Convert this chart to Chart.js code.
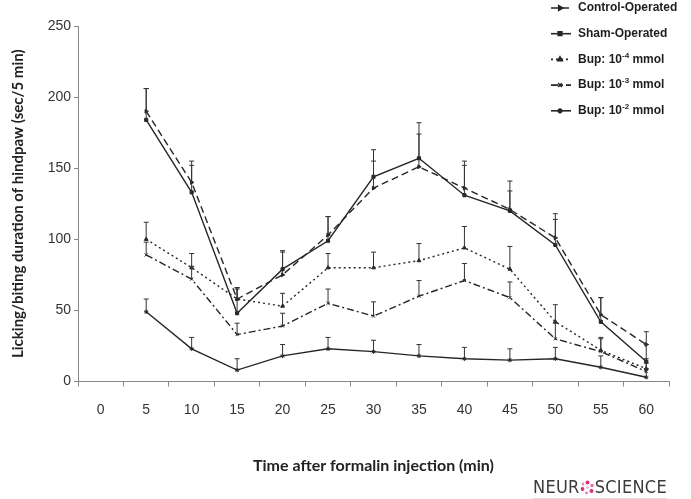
<!DOCTYPE html>
<html>
<head>
<meta charset="utf-8">
<script src="https://cdn.jsdelivr.net/npm/chart.js@4.4.1/dist/chart.umd.min.js"></script>
<style>
  html, body { margin: 0; padding: 0; background: #fff; }
  #wrap { position: relative; width: 691px; height: 499px; }
  #c { position: absolute; left: 0; top: 0; }
  #logo { position: absolute; left: 533px; top: 476px; font-family: "Liberation Sans Narrow", "DejaVu Sans Condensed", "Liberation Sans", sans-serif; font-size: 18px; color: #3a3a3a; letter-spacing: 0.3px; white-space: nowrap; border-bottom: 1px solid #ddd; padding-bottom: 1px; }
  #logo svg { vertical-align: -2px; }
</style>
</head>
<body>
<div id="wrap">
  <canvas id="c" width="691" height="499"></canvas>
  <div id="logo">NEUR<svg width="15" height="15" viewBox="0 0 15 15"><circle cx="7.5" cy="2.5" r="2" fill="#d6337f"/><circle cx="12" cy="5.5" r="1.7" fill="#e26aa5"/><circle cx="11.5" cy="11" r="2" fill="#d6337f"/><circle cx="6.5" cy="12.8" r="1.6" fill="#e98bbb"/><circle cx="2.5" cy="9" r="1.9" fill="#d6337f"/><circle cx="3" cy="4" r="1.4" fill="#e98bbb"/><circle cx="7.5" cy="7.5" r="1.3" fill="#f0a8cc"/></svg>SCIENCE</div>
</div>
<script>
// ---- data ----
const timeLabels = ['0','5','10','15','20','25','30','35','40','45','50','55','60'];
const seriesNames = ['Control-Operated','Sham-Operated','Bup: 10\u207B\u2074 mmol','Bup: 10\u207B\u00B3 mmol','Bup: 10\u207B\u00B2 mmol'];
const controlOperated = [null,190,140,58,75,103,136,151,136,121,101,47,26];
const controlErr      = [null,16,12,8,16,13,19,23,16,13,13,12,9];
const shamOperated    = [null,184,133,48,79,99,144,157,131,120,96,42,14];
const shamErr         = [null,22,22,17,13,17,19,25,24,21,22,17,12];
const bup4            = [null,100,80,58,53,80,80,85,94,79,42,22,9];
const bup4Err         = [null,12,10,8,9,10,11,12,15,16,12,9,7];
const bup3            = [null,89,72,33,39,55,46,60,71,59,30,21,7];
const bup3Err         = [null,9,9,8,9,10,10,11,12,11,11,9,6];
const bup2            = [null,49,23,8,18,23,21,18,16,15,16,10,3];
const bup2Err         = [null,9,8,8,8,8,8,8,8,8,8,8,6];
const yTicks = [0,50,100,150,200,250];

const INK = '#262626';
function ds(label, data, err, dash, pointStyle, rot) {
  return {
    label, data, err,
    borderColor: INK, backgroundColor: INK,
    borderWidth: 1.4, borderDash: dash,
    pointStyle, pointRotation: rot || 0, pointRadius: 2.2, pointBorderWidth: 1,
    pointBackgroundColor: INK, pointBorderColor: INK,
    tension: 0, spanGaps: false, fill: false
  };
}
const datasets = [
  ds(seriesNames[0], controlOperated, controlErr, [7,4], 'triangle', 90),
  ds(seriesNames[1], shamOperated, shamErr, [], 'rect'),
  ds(seriesNames[2], bup4, bup4Err, [2,3], 'triangle'),
  ds(seriesNames[3], bup3, bup3Err, [7,3,2,3], 'crossRot'),
  ds(seriesNames[4], bup2, bup2Err, [], 'star')
];

const errorBars = {
  id: 'errorBars',
  afterDatasetsDraw(chart) {
    const ctx = chart.ctx, xs = chart.scales.x, ys = chart.scales.y;
    ctx.save();
    ctx.strokeStyle = '#333'; ctx.lineWidth = 1; ctx.setLineDash([]);
    chart.data.datasets.forEach(d => {
      d.data.forEach((v, i) => {
        if (v == null || d.err[i] == null) return;
        const x = xs.getPixelForValue(i);
        const y0 = ys.getPixelForValue(v), y1 = ys.getPixelForValue(v + d.err[i]);
        ctx.beginPath();
        ctx.moveTo(x, y0); ctx.lineTo(x, y1);
        ctx.moveTo(x - 2.5, y1); ctx.lineTo(x + 2.5, y1);
        ctx.stroke();
      });
    });
    ctx.restore();
  }
};

const supMap = {'\u207B':'-','\u2070':'0','\u00B9':'1','\u00B2':'2','\u00B3':'3','\u2074':'4','\u2075':'5'};
const customLegend = {
  id: 'customLegend',
  afterDraw(chart) {
    const ctx = chart.ctx;
    ctx.save();
    chart.data.datasets.forEach((d, i) => {
      const y = 8 + 25.7 * i;
      ctx.strokeStyle = INK; ctx.lineWidth = 1.6;
      ctx.setLineDash(d.borderDash);
      ctx.beginPath(); ctx.moveTo(551, y); ctx.lineTo(571, y); ctx.stroke();
      ctx.setLineDash([]);
      ctx.fillStyle = INK;
      Chart.helpers.drawPoint(ctx, {pointStyle: d.pointStyle, rotation: d.pointRotation, radius: 2.6, borderWidth: 1.2}, 560, y);
      ctx.fillStyle = '#1e1e1e';
      ctx.textBaseline = 'middle';
      let x = 578;
      const runs = [];
      for (const ch of d.label) {
        const sup = supMap[ch] !== undefined;
        const t = sup ? supMap[ch] : ch;
        if (runs.length && runs[runs.length-1].sup === sup) runs[runs.length-1].t += t;
        else runs.push({t, sup});
      }
      runs.forEach(r => {
        ctx.font = r.sup ? 'bold 8px "Liberation Sans", Arial, sans-serif' : 'bold 12px "Liberation Sans", Arial, sans-serif';
        ctx.fillText(r.t, x, r.sup ? y - 4 : y);
        x += ctx.measureText(r.t).width;
      });
    });
    ctx.restore();
  }
};

new Chart(document.getElementById('c'), {
  type: 'line',
  data: { labels: timeLabels, datasets },
  plugins: [errorBars, customLegend],
  options: {
    responsive: false, animation: false, devicePixelRatio: 1,
    layout: { padding: { top: 26, right: 22, left: 0, bottom: 0 } },
    plugins: { legend: { display: false }, tooltip: { enabled: false } },
    scales: {
      x: {
        type: 'category', offset: true,
        grid: { offset: true, drawOnChartArea: false, drawTicks: true, tickLength: 5, color: '#888', lineWidth: 1 },
        border: { color: '#888', width: 1 },
        ticks: { color: '#333', font: { family: '"Liberation Sans", Arial, sans-serif', size: 14 }, padding: 15, maxRotation: 0, autoSkip: false },
        title: { display: true, text: 'Time after formalin injection (min)', color: '#222',
                 font: { family: 'Lato, "Open Sans", sans-serif', size: 16, weight: 'bold' }, padding: { top: 0, bottom: 24 } },
        afterFit(s) { s.height = 117.5; }
      },
      y: {
        min: 0, max: 250,
        afterBuildTicks(s) { s.ticks = yTicks.map(v => ({ value: v })); },
        grid: { drawOnChartArea: false, drawTicks: true, tickLength: 4, color: '#888' },
        border: { color: '#888', width: 1 },
        ticks: { color: '#333', font: { family: '"Liberation Sans", Arial, sans-serif', size: 14 }, padding: 3 },
        title: { display: true, text: 'Licking/biting duration of hindpaw (sec/5 min)', color: '#222',
                 font: { family: 'Lato, "Open Sans", sans-serif', size: 15, weight: 'bold' }, padding: { top: 9, bottom: 0 } },
        afterFit(s) { s.width = 78; }
      }
    }
  }
});
</script>
</body>
</html>
